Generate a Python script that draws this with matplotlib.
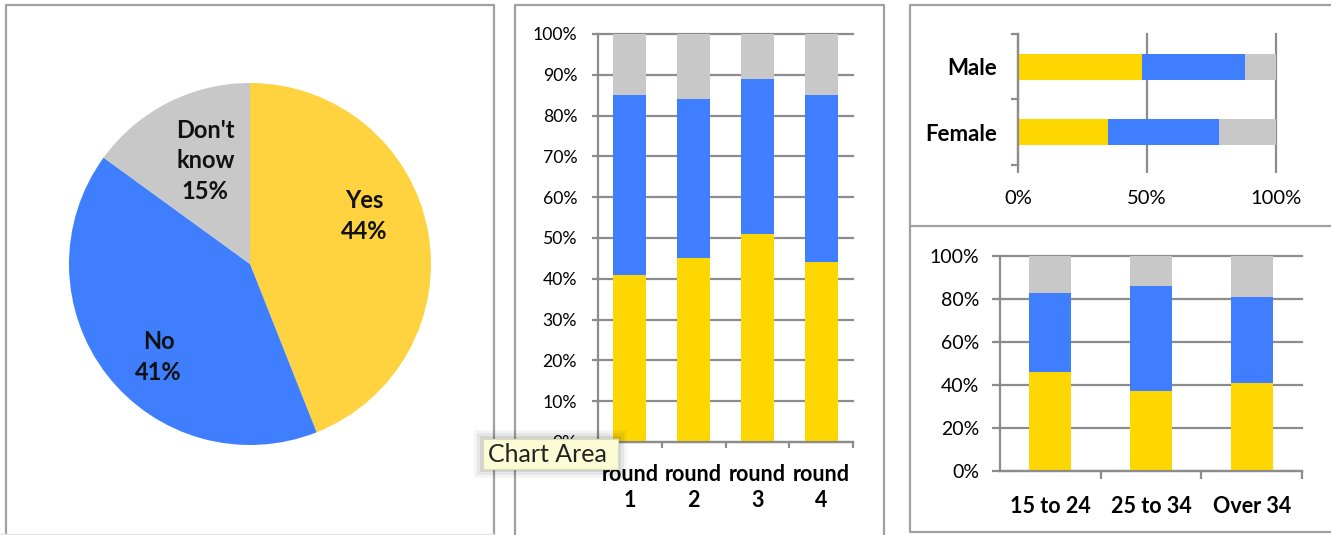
import matplotlib
matplotlib.use("Agg")
import matplotlib.pyplot as plt
from matplotlib.lines import Line2D
from matplotlib.patches import FancyBboxPatch

# ---- data -------------------------------------------------------------
answers = ["Yes", "No", "Don't\nknow"]
overall = [44, 41, 15]

rounds = ["round\n1", "round\n2", "round\n3", "round\n4"]
rounds_yes = [41, 45, 51, 44]
rounds_no = [44, 39, 38, 41]
rounds_dk = [15, 16, 11, 15]

sexes = ["Female", "Male"]
sex_yes = [35, 48]
sex_no = [43, 40]
sex_dk = [22, 12]

ages = ["15 to 24", "25 to 34", "Over 34"]
age_yes = [46, 37, 41]
age_no = [37, 49, 40]
age_dk = [17, 14, 19]

pct_ticks_10 = [0, 10, 20, 30, 40, 50, 60, 70, 80, 90, 100]
pct_ticks_20 = [0, 20, 40, 60, 80, 100]
pct_ticks_50 = [0, 50, 100]

# ---- style ------------------------------------------------------------
YELLOW = "#FFD700"
PIE_YELLOW = "#FFD240"
BLUE = "#3F7FFF"
GREY = "#C8C8C8"
GRID = "#8c8c8c"
FRAME = "#a0a0a0"
FONT = "Lato"

plt.rcParams["font.family"] = [FONT, "DejaVu Sans"]
plt.rcParams["text.color"] = "#111111"

W, H = 1331, 535
fig = plt.figure(figsize=(W / 100, H / 100), dpi=100)
fig.patch.set_facecolor("white")


def ax_px(x0, y0, x1, y1):
    return fig.add_axes([x0 / W, 1 - y1 / H, (x1 - x0) / W, (y1 - y0) / H])


def line_px(xs, ys, color=FRAME, lw=1.6):
    fig.add_artist(Line2D([x / W for x in xs], [1 - y / H for y in ys],
                          transform=fig.transFigure, color=color, lw=lw,
                          solid_capstyle="butt"))


def pct(v):
    return f"{v}%"


# ---- panel frames -----------------------------------------------------
line_px([6, 6, 494, 494], [540, 5, 5, 540])
line_px([515, 515, 884, 884], [540, 5, 5, 540])
line_px([1335, 910, 910, 1335], [5, 5, 532, 532])
line_px([910, 1335], [226, 226])
line_px([0, 494], [533.5, 533.5], color="#e4e4e4", lw=1.0)

# ---- pie --------------------------------------------------------------
ax = ax_px(68, 83, 432, 445)
ax.pie(overall, colors=[PIE_YELLOW, BLUE, GREY], startangle=90,
       counterclock=False, radius=1, wedgeprops=dict(linewidth=0))
ax.set_xlim(-1, 1)
ax.set_ylim(-1, 1)
ax.axis("off")
label_xy = [(0.632, 0.265), (-0.505, -0.515), (-0.247, 0.57)]
for name, v, (lx, ly) in zip(answers, overall, label_xy):
    ax.text(lx, ly, f"{name}\n{pct(v)}", ha="center", va="center",
            fontsize=17, fontweight="bold", linespacing=1.4)


def style_axes(a):
    for s in ("top", "right"):
        a.spines[s].set_visible(False)
    for s in ("left", "bottom"):
        a.spines[s].set_color(GRID)
        a.spines[s].set_linewidth(1.6)
    a.set_axisbelow(True)
    a.tick_params(which="both", color=GRID, width=1.6, direction="out")


def stacked_columns(a, cats, yes, no, dk, width, fs, ls):
    x = list(range(len(cats)))
    yv = [v / 100 for v in yes]
    nv = [v / 100 for v in no]
    dv = [v / 100 for v in dk]
    a.bar(x, yv, width, color=YELLOW, linewidth=0)
    a.bar(x, nv, width, bottom=yv, color=BLUE, linewidth=0)
    a.bar(x, dv, width, bottom=[p + q for p, q in zip(yv, nv)],
          color=GREY, linewidth=0)
    a.set_xlim(-0.5, len(cats) - 0.5)
    a.set_ylim(0, 1)
    a.set_xticks(x)
    a.set_xticklabels(cats, fontweight="bold", fontsize=fs, linespacing=ls)
    a.set_xticks([i + 0.5 for i in x], minor=True)
    a.yaxis.grid(True, color=GRID, lw=1.6)
    for gl in a.get_ygridlines():
        gl.set_clip_on(False)


# ---- rounds -----------------------------------------------------------
ax2 = ax_px(598, 34, 853, 442)
style_axes(ax2)
stacked_columns(ax2, rounds, rounds_yes, rounds_no, rounds_dk, 0.52, 15.5, 1.3)
ax2.set_yticks([t / 100 for t in pct_ticks_10])
ax2.set_yticklabels([pct(t) for t in pct_ticks_10], fontsize=12.7)
ax2.tick_params(axis="y", length=4, pad=11)
ax2.tick_params(axis="x", which="major", length=0, pad=16)
ax2.tick_params(axis="x", which="minor", length=4)

# tooltip over the corner of the rounds chart
for grow, alpha in ((9, 0.04), (6, 0.06), (3, 0.08)):
    fig.add_artist(FancyBboxPatch(((483 - grow) / W, 1 - (469 + grow) / H),
                                  (135 + 2 * grow) / W, (30 + 2 * grow) / H,
                                  boxstyle="square,pad=0", transform=fig.transFigure,
                                  facecolor="#000000", edgecolor="none",
                                  alpha=alpha, zorder=10))
fig.add_artist(FancyBboxPatch((483 / W, 1 - 469 / H), 135 / W, 30 / H,
                              boxstyle="square,pad=0", transform=fig.transFigure,
                              facecolor="#FBFBD6", edgecolor="#dcdcb8", lw=0.8,
                              zorder=11))
fig.text(488 / W, 1 - 455 / H, "Chart Area", ha="left", va="center",
         fontsize=18, color="#222222", zorder=12)

# ---- by sex -----------------------------------------------------------
ax3 = ax_px(1018, 34, 1276, 165)
style_axes(ax3)
ax3.spines["bottom"].set_visible(False)
ypos = list(range(len(sexes)))
sy = [v / 100 for v in sex_yes]
sn = [v / 100 for v in sex_no]
sd = [v / 100 for v in sex_dk]
ax3.barh(ypos, sy, 0.4, color=YELLOW, linewidth=0)
ax3.barh(ypos, sn, 0.4, left=sy, color=BLUE, linewidth=0)
ax3.barh(ypos, sd, 0.4, left=[p + q for p, q in zip(sy, sn)], color=GREY, linewidth=0)
ax3.set_xlim(0, 1)
ax3.set_ylim(-0.5, len(sexes) - 0.5)
ax3.set_xticks([t / 100 for t in pct_ticks_50])
ax3.set_xticklabels([pct(t) for t in pct_ticks_50], fontsize=14.5)
ax3.set_yticks(ypos)
ax3.set_yticklabels(sexes, fontweight="bold", fontsize=16)
ax3.set_yticks([-0.5, 0.5, 1.5], minor=True)
ax3.xaxis.grid(True, color=GRID, lw=1.6)
for gl in ax3.get_xgridlines():
    gl.set_clip_on(False)
ax3.tick_params(axis="x", length=6, pad=12)
ax3.tick_params(axis="y", which="major", length=0, pad=15)
ax3.tick_params(axis="y", which="minor", length=5)

# ---- by age -----------------------------------------------------------
ax4 = ax_px(1000, 256, 1302, 471)
style_axes(ax4)
stacked_columns(ax4, ages, age_yes, age_no, age_dk, 0.42, 15.5, 1.2)
ax4.set_yticks([t / 100 for t in pct_ticks_20])
ax4.set_yticklabels([pct(t) for t in pct_ticks_20], fontsize=14)
ax4.tick_params(axis="y", length=6, pad=9)
ax4.tick_params(axis="x", which="major", length=0, pad=18)
ax4.tick_params(axis="x", which="minor", length=6)

fig.savefig("out.png", dpi=100, facecolor="white")
